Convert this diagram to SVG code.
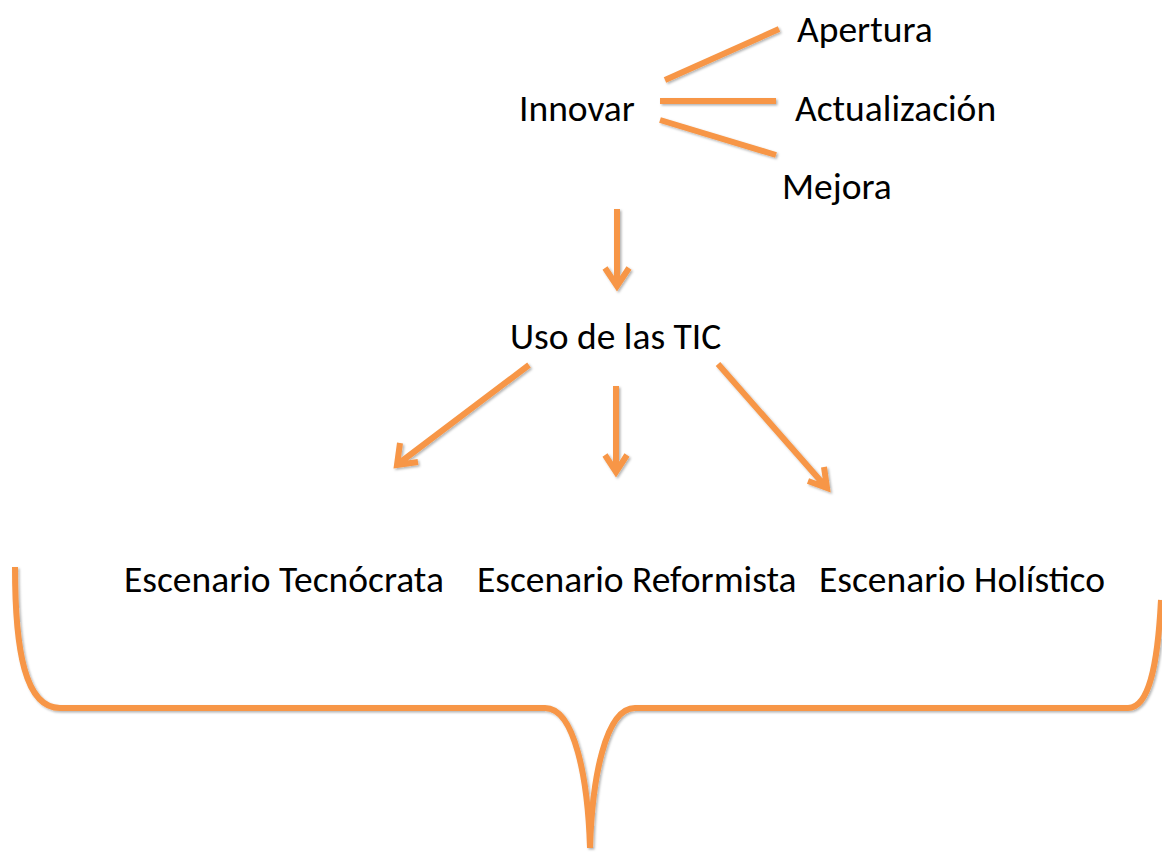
<svg xmlns="http://www.w3.org/2000/svg" width="1162" height="852" viewBox="0 0 1162 852">
<style>
.t{font-family:Carlito,Lato,"Liberation Sans",sans-serif;font-size:37.5px;fill:#000}
.c{stroke:#F79646;stroke-width:6;fill:none;stroke-linecap:butt}
.b{stroke:#F79646;stroke-width:6;fill:none}
</style>
<defs>
<filter id="sh" x="-10%" y="-10%" width="120%" height="120%">
<feDropShadow dx="1.5" dy="1.5" stdDeviation="1.2" flood-color="#000" flood-opacity="0.3"/>
</filter>
</defs>
<rect width="1162" height="852" fill="#fff"/>
<g id="connectors" filter="url(#sh)">
<line class="c" x1="665" y1="80" x2="779" y2="29"/>
<line class="c" x1="660" y1="101" x2="776" y2="101"/>
<line class="c" x1="660" y1="120" x2="776" y2="155"/>
<path class="c" d="M617 209 V286 M605 268 L617 286 L629 268"/>
<path class="c" d="M529 365 L398 464 M400 443 L397 465 L418 462"/>
<path class="c" d="M616 386 V472 M605 455 L616 472 L627 455"/>
<path class="c" d="M718 364 L826 487 M808 481 L827 488 L824 467"/>
<path class="b" d="M15 567 C15 650 25 708 60 708 H545 C575 708 588 780 590 848 C592 780 605 708 635 708 H1128 C1150 708 1158 660 1161 600"/>
</g>
<g id="innovar"><text class="t" x="519" y="121">Innovar</text></g>
<g id="apertura"><text class="t" x="797" y="42">Apertura</text></g>
<g id="actualizacion"><text class="t" x="795" y="121">Actualización</text></g>
<g id="mejora"><text class="t" x="782" y="199">Mejora</text></g>
<g id="uso"><text class="t" x="510" y="349">Uso de las TIC</text></g>
<g id="tecnocrata"><text class="t" x="124" y="592">Escenario Tecnócrata</text></g>
<g id="reformista"><text class="t" x="477" y="592">Escenario Reformista</text></g>
<g id="holistico"><text class="t" x="819" y="592">Escenario Holístico</text></g>
</svg>
